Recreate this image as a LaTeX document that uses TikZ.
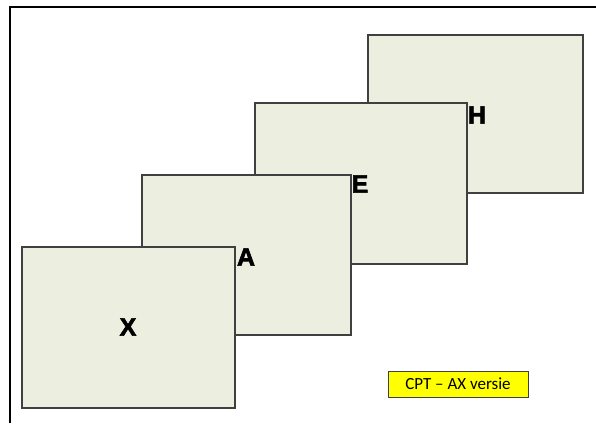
\documentclass[tikz,border=0pt]{standalone}
\usepackage{fontspec}
\setmainfont{Liberation Sans}
\newfontfamily\carlito{Carlito}
\newfontfamily\heavy{Liberation Sans}[FakeBold=2.5]
\definecolor{sheet}{RGB}{236,238,224}
\definecolor{edge}{RGB}{64,64,64}
\definecolor{tag}{RGB}{255,255,0}
\tikzset{
  sheet/.style={draw=edge, line width=1.3pt, fill=sheet},
  letter/.style={font=\heavy\bfseries\fontsize{25}{30}\selectfont},
}
\begin{document}
\begin{tikzpicture}[x=1pt, y=-1pt]
  \useasboundingbox (0, 0) rectangle (596, 423);
  \draw[line width=2pt] (9.5, 423) -- (9.5, 7) -- (596, 7);

  % the four sheets, back to front
  \draw[sheet] (368, 35) rectangle (583, 193);
  \draw[sheet] (255, 103) rectangle (467, 264);
  \draw[sheet] (142, 175) rectangle (351, 335);
  \draw[sheet] (22, 247) rectangle (235, 408);

  \node[letter] (h) at (477, 115) {H};
  \node[letter] (e) at (360, 184) {E};
  \node[letter] (a) at (246, 257) {A};
  \node[letter] (x) at (128, 327) {X};

  \node[draw=edge, line width=0.8pt, fill=tag, minimum width=140pt,
    minimum height=26pt, font=\carlito\fontsize{17}{20}\selectfont]
    (version) at (458, 384) {CPT – AX versie};
\end{tikzpicture}
\end{document}
